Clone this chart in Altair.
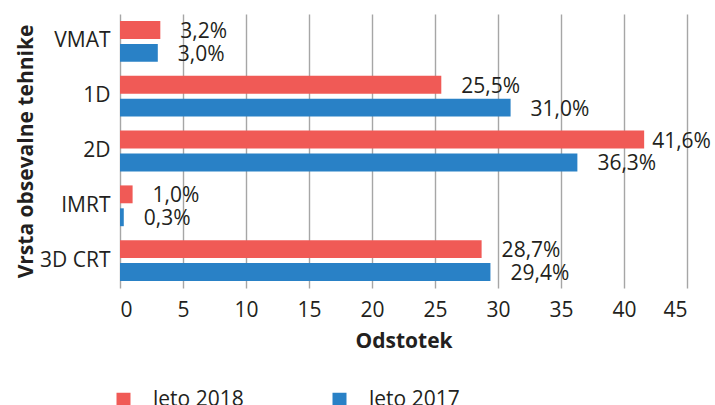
import altair as alt
import pandas as pd

categories = ["VMAT", "1D", "2D", "IMRT", "3D CRT"]
series = ["leto 2018", "leto 2017"]
values_2018 = [3.2, 25.5, 41.6, 1.0, 28.7]
values_2017 = [3.0, 31.0, 36.3, 0.3, 29.4]
x_ticks = [0, 5, 10, 15, 20, 25, 30, 35, 40, 45]
colors = ["#F05A56", "#2981C6"]

rows = []
for c, a, b in zip(categories, values_2018, values_2017):
    rows.append({"tehnika": c, "serija": series[0], "odstotek": a})
    rows.append({"tehnika": c, "serija": series[1], "odstotek": b})
df = pd.DataFrame(rows)
df["oznaka"] = df["odstotek"].map(lambda v: f"{v:.1f}".replace(".", ",") + "%")

FONT = "Open Sans"
TXT = "#231F20"

y_enc = alt.Y(
    "tehnika:N",
    sort=categories,
    scale=alt.Scale(paddingInner=0.256, paddingOuter=0.128),
    axis=alt.Axis(
        title="Vrsta obsevalne tehnike",
        domain=False, ticks=False, tickSize=0, grid=False,
        labelPadding=10, labelFontSize=21, labelFont=FONT, labelColor=TXT,
        titleFont=FONT, titleFontSize=21, titleFontWeight="bold", titleColor=TXT,
        titleAngle=-90, titleBaseline="alphabetic", titleX=-88, titleY=137,
        titleAlign="center",
    ),
)
yoff_enc = alt.YOffset("serija:N", sort=series, scale=alt.Scale(paddingInner=0.22))
x_enc = alt.X(
    "odstotek:Q",
    scale=alt.Scale(domain=[0, 45], nice=False, zero=True),
    axis=alt.Axis(
        values=x_ticks, title="Odstotek",
        grid=True, gridColor="#A6A6A6", gridWidth=1.4,
        domain=False, ticks=False, tickSize=0,
        labelPadding=11, labelFontSize=21, labelFont=FONT, labelColor=TXT,
        titleFont=FONT, titleFontSize=21, titleFontWeight="bold", titleColor=TXT,
        titleBaseline="alphabetic", titleY=59,
    ),
)
color_enc = alt.Color(
    "serija:N",
    scale=alt.Scale(domain=series, range=colors),
    legend=alt.Legend(
        title=None, orient="none", legendX=-7, legendY=375,
        direction="horizontal", symbolType="square", symbolSize=196,
        symbolStrokeWidth=0, labelFontSize=21, labelFont=FONT, labelColor=TXT,
        labelOffset=19, columnPadding=85,
    ),
)

base = alt.Chart(df).encode(y=y_enc, yOffset=yoff_enc)

bars = base.mark_bar().encode(x=x_enc, color=color_enc)

labels_main = base.mark_text(
    align="left", baseline="middle", dx=20, dy=2, font=FONT, fontSize=21, color=TXT
).encode(x=alt.X("odstotek:Q"), text="oznaka:N").transform_filter("datum.odstotek < 40")

labels_big = base.mark_text(
    align="left", baseline="middle", dx=8, dy=2, font=FONT, fontSize=21, color=TXT
).encode(x=alt.X("odstotek:Q"), text="oznaka:N").transform_filter("datum.odstotek >= 40")

chart = (
    alt.layer(bars, labels_main, labels_big)
    .properties(
        width=567, height=274,
        autosize=alt.AutoSizeParams(type="none"),
        padding={"left": 120, "top": 14, "right": 28, "bottom": 117},
        background="white",
    )
    .configure_view(stroke=None)
)

chart.save("out.html", embed_options={"renderer": "svg", "actions": False})
